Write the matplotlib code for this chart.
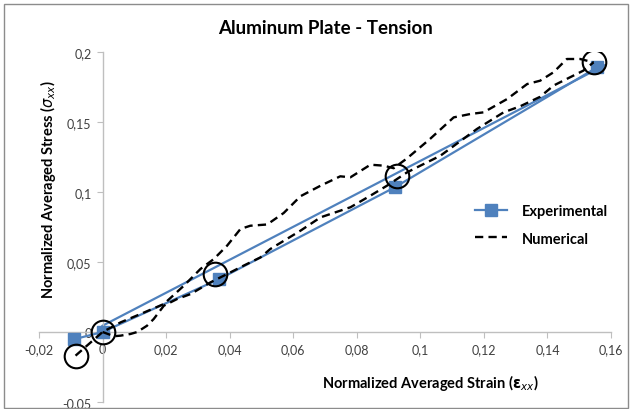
import matplotlib
matplotlib.use("Agg")
import matplotlib.pyplot as plt
from matplotlib.patches import Rectangle
from matplotlib.ticker import FuncFormatter, MultipleLocator

plt.rcParams['font.family'] = ['Lato', 'DejaVu Sans']

# Experimental points (blue squares)
exp_strain = [-0.009, 0.0, 0.0368, 0.092, 0.1556]
exp_stress = [-0.0052, 0.0, 0.0379, 0.1034, 0.189]

# straight reference line (blue, no legend entry)
fit_strain = [0.0, 0.158]
fit_stress = [0.0045, 0.1905]

# Numerical points (open circles)
num_strain = [-0.0085, 0.0, 0.0355, 0.0925, 0.1545]
num_stress = [-0.0169, 0.0, 0.0414, 0.1112, 0.1926]

# Numerical curve, upper branch
upper_strain = [-0.0085, 0.0, 0.0057, 0.012, 0.0193, 0.0256, 0.0308, 0.035, 0.0392,
                0.0434, 0.0465, 0.0518, 0.057, 0.0623, 0.0686, 0.0748, 0.078, 0.0843,
                0.0885, 0.0916, 0.0958, 0.1031, 0.1105, 0.1157, 0.1199, 0.1273, 0.1336,
                0.1377, 0.1419, 0.1461, 0.1503, 0.1545]
upper_stress = [-0.0169, 0.0, 0.0069, 0.0129, 0.020, 0.0331, 0.045, 0.0521, 0.0617,
                0.0736, 0.0759, 0.0768, 0.085, 0.097, 0.1045, 0.1112, 0.1105, 0.1195,
                0.1188, 0.1170, 0.1240, 0.1380, 0.1533, 0.1557, 0.1569, 0.1664, 0.1771,
                0.1795, 0.1855, 0.1950, 0.1950, 0.1926]

# Numerical curve, lower branch
lower_strain = [0.0, 0.0036, 0.0057, 0.0088, 0.0109, 0.014, 0.0161, 0.0193, 0.0235,
                0.0277, 0.034, 0.0392, 0.0444, 0.0497, 0.0528, 0.0623, 0.0686, 0.078,
                0.0843, 0.0895, 0.0958, 0.1, 0.1063, 0.1178, 0.1262, 0.1314, 0.1377,
                0.1419, 0.1513, 0.1545]
lower_stress = [0.0, -0.003, -0.0026, -0.0014, 0.0, 0.0045, 0.0093, 0.0188, 0.0236,
                0.0271, 0.0355, 0.0414, 0.0474, 0.0533, 0.0593, 0.0724, 0.0819, 0.0891,
                0.0974, 0.1045, 0.114, 0.1188, 0.1259, 0.145, 0.1569, 0.1612, 0.168,
                0.176, 0.1867, 0.1926]

blue = '#4F81BD'

fig = plt.figure(figsize=(6.33, 4.10), dpi=100)
ax = fig.add_axes([39 / 633, 1 - 403 / 410, 572 / 633, 350 / 410])

ax.plot(fit_strain, fit_stress, color=blue, lw=1.6, zorder=2)
exp_line, = ax.plot(exp_strain, exp_stress, color=blue, lw=1.6, marker='s',
                    markersize=8, markeredgecolor=blue, zorder=3, label='Experimental')
num_line, = ax.plot(upper_strain, upper_stress, color='black', lw=1.7,
                    dashes=(3.5, 2.2), zorder=4, label='Numerical')
ax.plot(lower_strain, lower_stress, color='black', lw=1.7, dashes=(3.5, 2.2), zorder=4)
ax.plot(num_strain, num_stress, linestyle='none', marker='o', markersize=17,
        markerfacecolor='none', markeredgecolor='black', markeredgewidth=1.5, zorder=5)

ax.set_xlim(-0.02, 0.16)
ax.set_ylim(-0.05, 0.2)
ax.xaxis.set_major_locator(MultipleLocator(0.02))
ax.yaxis.set_major_locator(MultipleLocator(0.05))

def comma_fmt(v, pos):
    if abs(v) < 1e-9:
        return '0'
    return ('%g' % round(v, 3)).replace('.', ',')

ax.xaxis.set_major_formatter(FuncFormatter(comma_fmt))
ax.yaxis.set_major_formatter(FuncFormatter(comma_fmt))

for side in ['top', 'right']:
    ax.spines[side].set_visible(False)
for side in ['left', 'bottom']:
    ax.spines[side].set_position(('data', 0))
    ax.spines[side].set_color('#bfbfbf')
    ax.spines[side].set_linewidth(1)
ax.tick_params(direction='out', length=4, color='#bfbfbf', labelsize=9,
               labelcolor='#404040', pad=4)
ax.patch.set_alpha(0)

fig.text(325 / 633, 1 - 28 / 410, 'Aluminum Plate - Tension', ha='center', va='center',
         fontsize=13.5, fontweight='bold')
fig.text(430 / 633, 1 - 383 / 410, r'Normalized Averaged Strain ($\mathbf{\epsilon}_{xx}$)',
         ha='center', va='center', fontsize=10.5, fontweight='bold')
fig.text(48 / 633, 1 - 190 / 410, r'Normalized Averaged Stress ($\sigma_{xx}$)',
         ha='center', va='center', rotation=90, fontsize=10.5, fontweight='bold')

fig.legend(handles=[exp_line, num_line], loc='center left',
           bbox_to_anchor=(462 / 633, 1 - 226 / 410), frameon=False,
           prop={'size': 10.5, 'weight': 'bold'}, handlelength=2.2, labelspacing=0.9,
           handletextpad=1.0)

fig.patches.append(Rectangle((4 / 633, 1 / 410), 624 / 633, 404 / 410,
                             transform=fig.transFigure, fill=False,
                             edgecolor='#8c8c8c', lw=1))

fig.savefig('out.png', dpi=100)
